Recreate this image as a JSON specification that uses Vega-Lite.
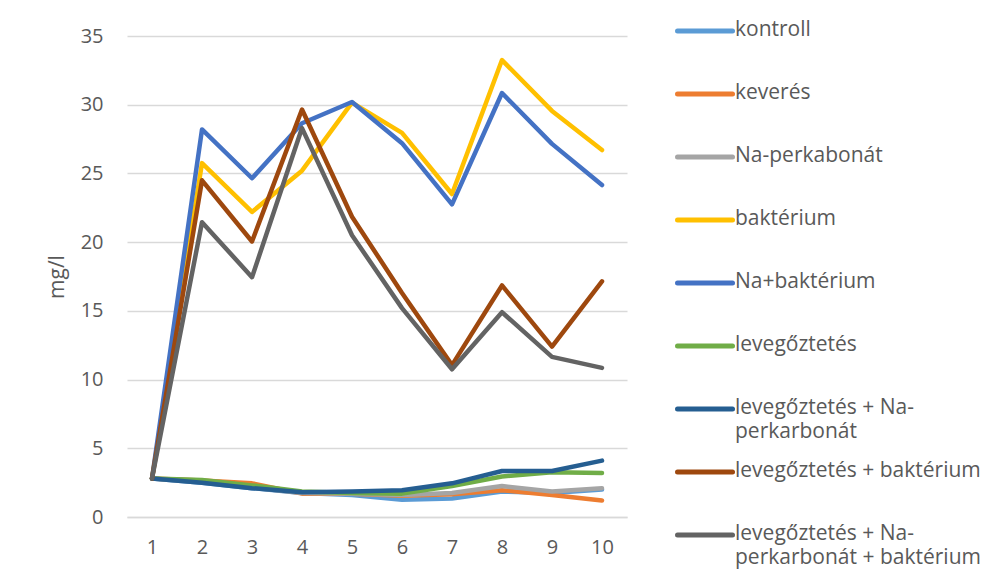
{
  "$schema": "https://vega.github.io/schema/vega-lite/v6.json",
  "width": 500,
  "height": 481,
  "autosize": {"type": "none"},
  "padding": {"left": 127, "top": 36, "right": 376, "bottom": 58},
  "background": "white",
  "config": {
    "font": "Open Sans",
    "view": {"stroke": null},
    "axis": {"labelFont": "Open Sans", "titleFont": "Open Sans", "labelColor": "#595959", "titleColor": "#595959"}
  },
  "data": {
    "values": [
      {"x": 1, "series": "kontroll", "value": 2.8}, {"x": 2, "series": "kontroll", "value": 2.5}, {"x": 3, "series": "kontroll", "value": 2.1}, {"x": 4, "series": "kontroll", "value": 1.75}, {"x": 5, "series": "kontroll", "value": 1.6}, {"x": 6, "series": "kontroll", "value": 1.25}, {"x": 7, "series": "kontroll", "value": 1.35}, {"x": 8, "series": "kontroll", "value": 1.85}, {"x": 9, "series": "kontroll", "value": 1.75}, {"x": 10, "series": "kontroll", "value": 2.0},
      {"x": 1, "series": "keverés", "value": 2.8}, {"x": 2, "series": "keverés", "value": 2.65}, {"x": 3, "series": "keverés", "value": 2.45}, {"x": 4, "series": "keverés", "value": 1.7}, {"x": 5, "series": "keverés", "value": 1.7}, {"x": 6, "series": "keverés", "value": 1.55}, {"x": 7, "series": "keverés", "value": 1.65}, {"x": 8, "series": "keverés", "value": 1.95}, {"x": 9, "series": "keverés", "value": 1.6}, {"x": 10, "series": "keverés", "value": 1.2},
      {"x": 1, "series": "Na-perkabonát", "value": 2.8}, {"x": 2, "series": "Na-perkabonát", "value": 2.55}, {"x": 3, "series": "Na-perkabonát", "value": 2.15}, {"x": 4, "series": "Na-perkabonát", "value": 1.75}, {"x": 5, "series": "Na-perkabonát", "value": 1.7}, {"x": 6, "series": "Na-perkabonát", "value": 1.6}, {"x": 7, "series": "Na-perkabonát", "value": 1.75}, {"x": 8, "series": "Na-perkabonát", "value": 2.25}, {"x": 9, "series": "Na-perkabonát", "value": 1.85}, {"x": 10, "series": "Na-perkabonát", "value": 2.1},
      {"x": 1, "series": "baktérium", "value": 2.8}, {"x": 2, "series": "baktérium", "value": 25.75}, {"x": 3, "series": "baktérium", "value": 22.2}, {"x": 4, "series": "baktérium", "value": 25.2}, {"x": 5, "series": "baktérium", "value": 30.15}, {"x": 6, "series": "baktérium", "value": 27.95}, {"x": 7, "series": "baktérium", "value": 23.5}, {"x": 8, "series": "baktérium", "value": 33.25}, {"x": 9, "series": "baktérium", "value": 29.55}, {"x": 10, "series": "baktérium", "value": 26.7},
      {"x": 1, "series": "Na+baktérium", "value": 2.8}, {"x": 2, "series": "Na+baktérium", "value": 28.2}, {"x": 3, "series": "Na+baktérium", "value": 24.65}, {"x": 4, "series": "Na+baktérium", "value": 28.65}, {"x": 5, "series": "Na+baktérium", "value": 30.2}, {"x": 6, "series": "Na+baktérium", "value": 27.2}, {"x": 7, "series": "Na+baktérium", "value": 22.75}, {"x": 8, "series": "Na+baktérium", "value": 30.85}, {"x": 9, "series": "Na+baktérium", "value": 27.15}, {"x": 10, "series": "Na+baktérium", "value": 24.15},
      {"x": 1, "series": "levegőztetés", "value": 2.8}, {"x": 2, "series": "levegőztetés", "value": 2.7}, {"x": 3, "series": "levegőztetés", "value": 2.3}, {"x": 4, "series": "levegőztetés", "value": 1.85}, {"x": 5, "series": "levegőztetés", "value": 1.75}, {"x": 6, "series": "levegőztetés", "value": 1.7}, {"x": 7, "series": "levegőztetés", "value": 2.25}, {"x": 8, "series": "levegőztetés", "value": 2.95}, {"x": 9, "series": "levegőztetés", "value": 3.25}, {"x": 10, "series": "levegőztetés", "value": 3.2},
      {"x": 1, "series": "levegőztetés + Na-perkarbonát", "value": 2.8}, {"x": 2, "series": "levegőztetés + Na-perkarbonát", "value": 2.5}, {"x": 3, "series": "levegőztetés + Na-perkarbonát", "value": 2.1}, {"x": 4, "series": "levegőztetés + Na-perkarbonát", "value": 1.8}, {"x": 5, "series": "levegőztetés + Na-perkarbonát", "value": 1.85}, {"x": 6, "series": "levegőztetés + Na-perkarbonát", "value": 1.95}, {"x": 7, "series": "levegőztetés + Na-perkarbonát", "value": 2.45}, {"x": 8, "series": "levegőztetés + Na-perkarbonát", "value": 3.35}, {"x": 9, "series": "levegőztetés + Na-perkarbonát", "value": 3.35}, {"x": 10, "series": "levegőztetés + Na-perkarbonát", "value": 4.1},
      {"x": 1, "series": "levegőztetés + baktérium", "value": 2.8}, {"x": 2, "series": "levegőztetés + baktérium", "value": 24.5}, {"x": 3, "series": "levegőztetés + baktérium", "value": 20.05}, {"x": 4, "series": "levegőztetés + baktérium", "value": 29.65}, {"x": 5, "series": "levegőztetés + baktérium", "value": 21.85}, {"x": 6, "series": "levegőztetés + baktérium", "value": 16.3}, {"x": 7, "series": "levegőztetés + baktérium", "value": 11.05}, {"x": 8, "series": "levegőztetés + baktérium", "value": 16.85}, {"x": 9, "series": "levegőztetés + baktérium", "value": 12.4}, {"x": 10, "series": "levegőztetés + baktérium", "value": 17.15},
      {"x": 1, "series": "levegőztetés + Na-perkarbonát + baktérium", "value": 2.8}, {"x": 2, "series": "levegőztetés + Na-perkarbonát + baktérium", "value": 21.45}, {"x": 3, "series": "levegőztetés + Na-perkarbonát + baktérium", "value": 17.45}, {"x": 4, "series": "levegőztetés + Na-perkarbonát + baktérium", "value": 28.3}, {"x": 5, "series": "levegőztetés + Na-perkarbonát + baktérium", "value": 20.5}, {"x": 6, "series": "levegőztetés + Na-perkarbonát + baktérium", "value": 15.2}, {"x": 7, "series": "levegőztetés + Na-perkarbonát + baktérium", "value": 10.75}, {"x": 8, "series": "levegőztetés + Na-perkarbonát + baktérium", "value": 14.9}, {"x": 9, "series": "levegőztetés + Na-perkarbonát + baktérium", "value": 11.65}, {"x": 10, "series": "levegőztetés + Na-perkarbonát + baktérium", "value": 10.85}
    ]
  },
  "mark": {"type": "line", "strokeWidth": 4.5, "strokeCap": "round", "strokeJoin": "round"},
  "encoding": {
    "x": {
      "field": "x", "type": "ordinal",
      "scale": {"type": "point", "padding": 0.5},
      "axis": {"title": null, "labelAngle": 0, "labelFontSize": 20, "labelPadding": 20, "ticks": false, "domain": true, "domainColor": "#d9d9d9", "domainWidth": 1.3, "grid": false}
    },
    "y": {
      "field": "value", "type": "quantitative",
      "scale": {"domain": [0, 35], "nice": false},
      "axis": {"title": "mg/l", "values": [0, 5, 10, 15, 20, 25, 30, 35], "labelFontSize": 20, "labelPadding": 24, "ticks": false, "domain": false, "gridColor": "#d9d9d9", "gridWidth": 1.3, "titleFontSize": 21, "titleFontWeight": "normal", "titlePadding": 13}
    },
    "color": {
      "field": "series", "type": "nominal",
      "scale": {
        "domain": ["kontroll", "keverés", "Na-perkabonát", "baktérium", "Na+baktérium", "levegőztetés", "levegőztetés + Na-perkarbonát", "levegőztetés + baktérium", "levegőztetés + Na-perkarbonát + baktérium"],
        "range": ["#5B9BD5", "#ED7D31", "#A5A5A5", "#FFC000", "#4472C4", "#70AD47", "#255E91", "#9E480E", "#636363"]
      },
      "legend": {
        "title": null,
        "orient": "none",
        "legendX": 548,
        "legendY": -35,
        "padding": 0,
        "symbolType": "stroke",
        "symbolSize": 3025,
        "symbolStrokeWidth": 5,
        "labelFont": "Open Sans",
        "labelFontSize": 21,
        "labelColor": "#595959",
        "labelLimit": 400,
        "labelOffset": 0,
        "labelBaseline": "top",
        "rowPadding": 0,
        "labelExpr": "datum.label == 'levegőztetés + Na-perkarbonát' ? ['levegőztetés + Na-', 'perkarbonát'] : datum.label == 'levegőztetés + Na-perkarbonát + baktérium' ? ['levegőztetés + Na-', 'perkarbonát + baktérium'] : [datum.label, '']",
        "encode": {
          "labels": {"update": {"dy": {"value": -12}, "lineHeight": {"value": 24}}},
          "symbols": {"update": {"strokeCap": {"value": "round"}}}
        }
      }
    }
  }
}
